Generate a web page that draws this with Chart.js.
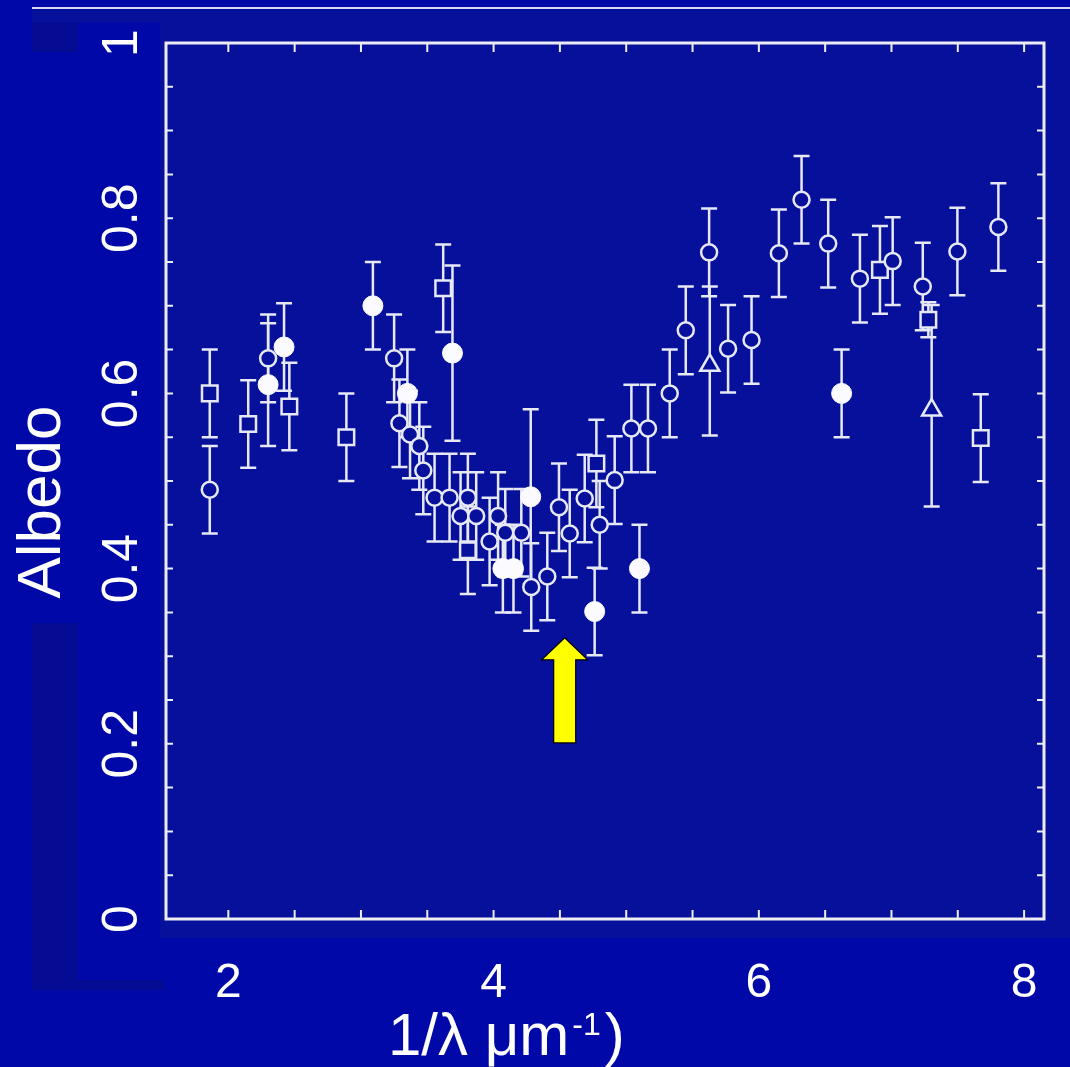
<!DOCTYPE html>
<html>
<head>
<meta charset="utf-8">
<script src="https://cdn.jsdelivr.net/npm/chart.js@4.4.0/dist/chart.umd.min.js"></script>
<style>
  html, body { margin: 0; padding: 0; background: #0009a8; overflow: hidden; }
  #wrap { width: 1070px; height: 1067px; }
</style>
</head>
<body>
<div id="wrap"><canvas id="albedo" width="1070" height="1067"></canvas></div>
<script>
// ---- data (x = 1/lambda in um^-1, y = albedo) ----

// open circles
const circleX   = [1.86, 2.30, 3.25, 3.29, 3.37, 3.44, 3.47, 3.555, 3.668, 3.806, 3.751, 3.869, 4.034, 3.97, 4.088, 4.209, 4.284, 4.405, 4.493, 4.574, 4.687, 4.80, 4.913, 5.039, 5.164, 5.328, 5.449, 5.625, 5.768, 5.945, 6.151, 6.322, 6.523, 6.762, 7.009, 7.236, 7.497, 7.806];
const circleY   = [0.49, 0.64, 0.64, 0.566, 0.553, 0.54, 0.512, 0.481, 0.481, 0.481, 0.46, 0.46, 0.46, 0.431, 0.441, 0.441, 0.379, 0.391, 0.47, 0.44, 0.48, 0.45, 0.501, 0.56, 0.56, 0.60, 0.672, 0.761, 0.651, 0.661, 0.76, 0.821, 0.771, 0.731, 0.751, 0.722, 0.762, 0.79];
const circleErr = [0.05, 0.05, 0.05, 0.05, 0.05, 0.05, 0.05, 0.05, 0.05, 0.05, 0.05, 0.05, 0.05, 0.05, 0.05, 0.05, 0.05, 0.05, 0.05, 0.05, 0.05, 0.05, 0.05, 0.05, 0.05, 0.05, 0.05, 0.05, 0.05, 0.05, 0.05, 0.05, 0.05, 0.05, 0.05, 0.05, 0.05, 0.05];

// open squares
const squareX   = [1.86, 2.15, 2.46, 2.89, 3.62, 3.806, 4.775, 6.913, 7.278, 7.673];
const squareY   = [0.60, 0.565, 0.585, 0.55, 0.72, 0.421, 0.52, 0.741, 0.684, 0.549];
const squareErr = [0.05, 0.05, 0.05, 0.05, 0.05, 0.05, 0.05, 0.05, 0.02, 0.05];

// filled circles
const dotX   = [2.30, 2.42, 3.09, 3.35, 3.69, 4.07, 4.15, 4.28, 4.762, 5.10, 6.624];
const dotY   = [0.61, 0.653, 0.70, 0.60, 0.646, 0.40, 0.40, 0.482, 0.351, 0.40, 0.60];
const dotErr = [0.07, 0.05, 0.05, 0.05, 0.10, 0.05, 0.05, 0.10, 0.05, 0.05, 0.05];

// open triangles (asymmetric bars)
const triX     = [5.63, 7.303];
const triY     = [0.632, 0.581];
const triErrUp = [0.09, 0.12];
const triErrDn = [0.08, 0.11];

// axes
const xTicks = [2, 4, 6, 8];
const yTicks = [0, 0.2, 0.4, 0.6, 0.8, 1];
const yTickLabels = ["0", "0.2", "0.4", "0.6", "0.8", "1"];

// arrow pointing at the dip (x, tip y, tail y)
const arrowX = 4.536, arrowTip = 0.321, arrowTail = 0.201;

const slideBlue  = "#0009a8";
const figureBlue = "#07109a";
const darkPatch  = "#050c93";
const ink        = "#e6e8f6";
const font       = "'Liberation Sans', Arial, sans-serif";

const pts = (xs, ys) => xs.map((x, i) => ({ x, y: ys[i] }));

// background of the slide + scanned figure
const background = {
  id: "background",
  beforeDraw(chart) {
    const { ctx, width, height } = chart;
    ctx.save();
    ctx.fillStyle = slideBlue;
    ctx.fillRect(0, 0, width, height);
    ctx.fillStyle = figureBlue;
    ctx.fillRect(160, 10, width - 160, 928);
    ctx.fillRect(32, 10, 128, 12);
    ctx.fillStyle = darkPatch;
    ctx.fillRect(32, 22, 46, 30);
    ctx.fillRect(32, 623, 46, 367);
    ctx.fillRect(32, 980, 132, 10);
    // thin rule at the top of the slide
    ctx.fillStyle = "#d8d8e8";
    ctx.fillRect(32, 7, width - 32, 2);
    ctx.restore();
  }
};

// vertical error bars, drawn under the markers
const errorBars = {
  id: "errorBars",
  beforeDatasetsDraw(chart) {
    const { ctx, scales: { x, y } } = chart;
    ctx.save();
    ctx.strokeStyle = ink;
    ctx.lineWidth = 2.5;
    chart.data.datasets.forEach(ds => {
      ds.data.forEach((p, i) => {
        const px = x.getPixelForValue(p.x);
        const top = y.getPixelForValue(p.y + ds.errUp[i]);
        const bot = y.getPixelForValue(p.y - ds.errDn[i]);
        ctx.beginPath();
        ctx.moveTo(px, top); ctx.lineTo(px, bot);
        ctx.moveTo(px - 8, top); ctx.lineTo(px + 8, top);
        ctx.moveTo(px - 8, bot); ctx.lineTo(px + 8, bot);
        ctx.stroke();
      });
    });
    ctx.restore();
  }
};

// frame with inward ticks, labels, titles and the yellow arrow
const frame = {
  id: "frame",
  afterDraw(chart) {
    const { ctx, chartArea: a, scales: { x, y } } = chart;
    ctx.save();
    ctx.strokeStyle = "#ececf4";
    ctx.lineWidth = 3;
    ctx.strokeRect(a.left, a.top, a.right - a.left, a.bottom - a.top);

    ctx.lineWidth = 2;
    ctx.beginPath();
    for (let v = 2; v <= 8.001; v += 0.5) {
      const px = x.getPixelForValue(v);
      ctx.moveTo(px, a.bottom); ctx.lineTo(px, a.bottom - 9);
      ctx.moveTo(px, a.top);    ctx.lineTo(px, a.top + 9);
    }
    for (let v = 0.05; v < 0.999; v += 0.05) {
      const py = y.getPixelForValue(v);
      ctx.moveTo(a.left, py);  ctx.lineTo(a.left + 7, py);
      ctx.moveTo(a.right, py); ctx.lineTo(a.right - 7, py);
    }
    ctx.stroke();

    ctx.fillStyle = "#ffffff";
    // x tick labels
    ctx.font = "48px " + font;
    ctx.textAlign = "center";
    ctx.textBaseline = "alphabetic";
    xTicks.forEach(v => ctx.fillText(String(v), x.getPixelForValue(v), 997));

    // y tick labels, rotated
    yTicks.forEach((v, i) => {
      ctx.save();
      ctx.translate(137, y.getPixelForValue(v));
      ctx.rotate(-Math.PI / 2);
      ctx.font = "50px " + font;
      ctx.fillText(yTickLabels[i], 0, 0);
      ctx.restore();
    });

    // y title
    ctx.save();
    ctx.translate(60, 502);
    ctx.rotate(-Math.PI / 2);
    ctx.font = "62px " + font;
    ctx.fillText("Albedo", 0, 0);
    ctx.restore();

    // x title with superscript
    ctx.textAlign = "left";
    let tx = 388;
    const base = 1055;
    ctx.font = "60px " + font;
    ctx.fillText("1/λ μm", tx, base);
    tx += ctx.measureText("1/λ μm").width + 3;
    ctx.font = "32px " + font;
    ctx.fillText("-1", tx, base - 20);
    tx += ctx.measureText("-1").width + 4;
    ctx.font = "60px " + font;
    ctx.fillText(")", tx, base);

    // yellow arrow
    const ax = x.getPixelForValue(arrowX);
    const tip = y.getPixelForValue(arrowTip);
    const tail = y.getPixelForValue(arrowTail);
    const headH = 22, headW = 23, shaftW = 11;
    ctx.beginPath();
    ctx.moveTo(ax, tip);
    ctx.lineTo(ax + headW, tip + headH);
    ctx.lineTo(ax + shaftW, tip + headH);
    ctx.lineTo(ax + shaftW, tail);
    ctx.lineTo(ax - shaftW, tail);
    ctx.lineTo(ax - shaftW, tip + headH);
    ctx.lineTo(ax - headW, tip + headH);
    ctx.closePath();
    ctx.fillStyle = "#ffff00";
    ctx.fill();
    ctx.strokeStyle = "#000000";
    ctx.lineWidth = 1.2;
    ctx.stroke();
    ctx.restore();
  }
};

new Chart(document.getElementById("albedo"), {
  type: "scatter",
  data: {
    datasets: [
      {
        label: "open circles",
        data: pts(circleX, circleY),
        errUp: circleErr, errDn: circleErr,
        pointStyle: "circle", pointRadius: 8,
        backgroundColor: figureBlue, borderColor: ink, borderWidth: 2.5
      },
      {
        label: "open squares",
        data: pts(squareX, squareY),
        errUp: squareErr, errDn: squareErr,
        pointStyle: "rect", pointRadius: 11,
        backgroundColor: figureBlue, borderColor: ink, borderWidth: 2.5
      },
      {
        label: "triangles",
        data: pts(triX, triY),
        errUp: triErrUp, errDn: triErrDn,
        pointStyle: "triangle", pointRadius: 11,
        backgroundColor: figureBlue, borderColor: ink, borderWidth: 2.5
      },
      {
        label: "filled circles",
        data: pts(dotX, dotY),
        errUp: dotErr, errDn: dotErr,
        pointStyle: "circle", pointRadius: 10,
        backgroundColor: "#fbfbff", borderColor: "#fbfbff", borderWidth: 1
      }
    ]
  },
  options: {
    responsive: false,
    animation: false,
    events: [],
    layout: { padding: { left: 166, top: 43, right: 26, bottom: 148 } },
    scales: {
      x: { type: "linear", min: 1.53, max: 8.15, display: false },
      y: { type: "linear", min: 0, max: 1, display: false }
    },
    plugins: { legend: { display: false }, tooltip: { enabled: false } }
  },
  plugins: [background, errorBars, frame]
});
</script>
</body>
</html>
